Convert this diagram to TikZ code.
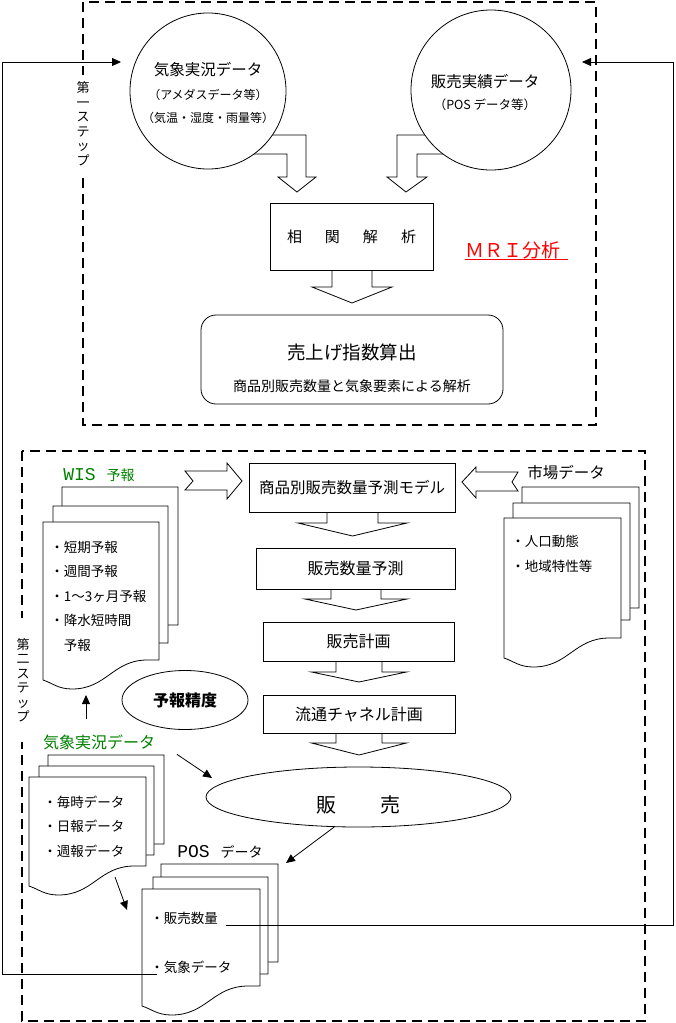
\documentclass[tikz,border=0pt]{standalone}
\usepackage{fontspec}
\setmainfont{Noto Sans CJK JP}
\newfontfamily\monolat{Liberation Mono}
\usetikzlibrary{shapes.geometric,arrows.meta,calc}

\definecolor{wisgreen}{RGB}{0,128,0}
\newcommand{\fsz}[2]{\fontsize{#1pt}{#2pt}\selectfont}

% sheet with a wavy lower edge: x1, top, x2, lower right
\newcommand{\docpage}[4]{%
  \pgfmathsetmacro\pw{#3-#1}
  \filldraw[fill=white] (#1,#2) -- (#3,#2) -- (#3,#4) -- ++(-0.1*\pw,0)
    .. controls +(-0.3*\pw,0) and +(0.3*\pw,0) .. (#1+0.25*\pw,#4+29)
    .. controls +(-0.12*\pw,0) and +(0.08*\pw,3) .. (#1,#4+20) -- cycle;
}
% hollow arrow pointing down: centre x, top, half shaft, half head, shaft, head
\newcommand{\blockdown}[6]{%
  \draw (#1-#3,#2) -- ++(0,#5) -- (#1-#4,#2+#5) -- (#1,#2+#5+#6)
    -- (#1+#4,#2+#5) -- (#1+#3,#2+#5) -- (#1+#3,#2);
}

\tikzset{
  dashbox/.style={line width=2pt, dash pattern=on 10pt off 6pt},
  steplbl/.style={fill=white, inner xsep=1pt, align=center, font={\fsz{13}{14.5}}},
  datacirc/.style={draw, circle, fill=white, inner sep=0},
  procbox/.style={draw, inner sep=0, font={\fsz{16}{16}}},
  items/.style={anchor=west, align=left, inner sep=0, font={\fsz{13.5}{24.5}}},
  arr/.style={-{Triangle[length=9pt,width=8pt]}},
}

\begin{document}
\begin{tikzpicture}[x=1pt, y=-1pt, line width=0.8pt]
  \useasboundingbox (0,0) rectangle (675,1023);

  % first step
  \draw[dashbox] (83,2) rectangle (596,425);
  \node[steplbl, inner ysep=7pt] (step1) at (83,123.5) {第\\一\\ス\\テ\\ッ\\プ};

  \draw[fill=white] (230,135) -- (306,135) -- (306,177) -- (316,177) -- (297,192)
    -- (278,177) -- (287,177) -- (287,154) -- (230,154) -- cycle;
  \draw[fill=white] (470,135) -- (397,135) -- (397,177) -- (387,177) -- (406,192)
    -- (427,177) -- (417,177) -- (417,154) -- (470,154) -- cycle;

  \node[datacirc, minimum size=156] (obscirc) at (208,91) {};
  \node[font={\fsz{15.5}{15.5}}] (obscirc-t1) at (208,70) {気象実況データ};
  \node[font={\fsz{12}{12}}] (obscirc-t2) at (208,95) {（アメダスデータ等）};
  \node[font={\fsz{12}{12}}] (obscirc-t3) at (208,118) {（気温・湿度・雨量等）};

  \node[datacirc, minimum size=160] (salecirc) at (491,90) {};
  \node[font={\fsz{15.5}{15.5}}] (salecirc-t1) at (485,82) {販売実績データ};
  \node[font={\fsz{12.5}{12.5}}] (salecirc-t2) at (485,105) {（POS データ等）};

  \node[procbox, minimum width=163, minimum height=67, font={\fsz{15}{15}}] (corr) at (351.5,236.5)
    {相\hspace{23pt}関\hspace{23pt}解\hspace{23pt}析};
  \blockdown{352}{270}{20}{40}{17}{16}

  \node[draw, rounded corners=15pt, minimum width=302, minimum height=89] (index) at (352,359.5) {};
  \node[font={\fsz{18.5}{18.5}}] (index-t) at (352,352) {売上げ指数算出};
  \node[font={\fsz{14}{14}}] (index-s) at (352,386) {商品別販売数量と気象要素による解析};

  \node[text=red, inner sep=0, font={\fsz{19}{19}}] (mri) at (512.5,250) {ＭＲＩ分析};
  \draw[red] (mri.south west) -- ++(103,0);

  % second step
  \draw[dashbox] (22,451) rectangle (645,1021);
  \node[steplbl, inner ysep=20pt] (step2) at (23,680) {第\\二\\ス\\テ\\ッ\\プ};

  \node[procbox, minimum width=206, minimum height=49, font={\fsz{15.5}{15.5}}] (model) at (352,487.5) {商品別販売数量予測モデル};
  \blockdown{352.5}{512}{25.5}{54.5}{11}{13}
  \node[procbox, minimum width=199, minimum height=41] (forecast) at (355.5,568.5) {販売数量予測};
  \blockdown{356}{589}{25}{51}{10}{11}
  \node[procbox, minimum width=191, minimum height=39] (plan) at (358.5,641.5) {販売計画};
  \blockdown{359}{661}{23}{47.5}{11}{10}
  \node[procbox, minimum width=192, minimum height=38] (channel) at (359,714) {流通チャネル計画};
  \blockdown{359}{733}{23}{47.5}{10}{12}

  \node[draw, ellipse, minimum width=305, minimum height=60, inner sep=0] (sales) at (358.5,797) {};
  \node[font={\fsz{20}{20}}] (sales-t) at (358.5,805) {販\hspace{44pt}売};

  % WIS forecasts
  \node[text=wisgreen, font={\fsz{14}{14}}] (wislbl) at (99,475) {{\monolat\fsz{18}{18}WIS\ }予報};
  \docpage{62}{487}{178}{625}
  \docpage{53}{506}{168}{643}
  \docpage{43}{522}{159}{660}
  \node[items] (wisitems) at (50,596) {・短期予報\\・週間予報\\・1～3ヶ月予報\\・降水短時間\\　予報};
  \draw (185,471) -- (227,471) -- (227,463) -- (242,481) -- (227,499) -- (227,490)
    -- (185,490) -- (193,481) -- cycle;

  % market data
  \node[font={\fsz{15.5}{15.5}}] (mktlbl) at (566,473) {市場データ};
  \docpage{522}{487}{639}{608}
  \docpage{513}{503}{630}{620}
  \docpage{504}{518}{621}{638}
  \node[items] (mktitems) at (511,554) {・人口動態\\・地域特性等};
  \draw (518,472) -- (476,472) -- (476,467) -- (462,482) -- (476,498) -- (476,491)
    -- (518,491) -- (512,482) -- cycle;

  \node[draw, ellipse, minimum width=126, minimum height=59, inner sep=0, font={\bfseries\fsz{16}{16}}] (accuracy) at (185,700) {予報精度};

  % observed weather
  \node[text=wisgreen, font={\fsz{16}{16}}] (obslbl) at (99,742) {気象実況データ};
  \docpage{48}{755}{164}{844}
  \docpage{39}{766}{154}{855}
  \docpage{29}{777}{146}{866}
  \node[items] (obsitems) at (43,826.5) {・毎時データ\\・日報データ\\・週報データ};

  % POS data
  \node[font={\fsz{14}{14}}] (poslbl) at (220,852) {{\monolat\fsz{18}{18}POS\ }データ};
  \docpage{161}{864}{278}{962}
  \docpage{153}{877}{268}{974}
  \docpage{142}{889}{260}{986}
  \node[items] (posqty) at (150,918) {・販売数量};
  \node[items] (poswx) at (150,967) {・気象データ};

  % connectors
  \coordinate (wisbot) at (86,695);
  \coordinate (salesin) at (212,778);
  \coordinate (posin) at (286,863);
  \coordinate (obsout) at (115,877);
  \coordinate (posside) at (127,910);
  \coordinate (retL) at (2,62);
  \coordinate (retR) at (673,62);
  \coordinate (stepin1) at (121,62);
  \coordinate (stepin2) at (582,62);

  \draw[arr, shorten <=12pt] (obslbl.north -| wisbot) -- (wisbot);
  \draw[arr, shorten <=22pt] (obslbl.east) -- (salesin);
  \draw[arr] (sales.231) -- (posin);
  \draw[arr] (obsout) -- (posside);
  \draw[arr] ($(poswx.west)+(7,7)$) -| (retL) -- (stepin1);
  \draw[arr] ($(posqty.east)+(8,7)$) -| (retR) -- (stepin2);
\end{tikzpicture}
\end{document}
